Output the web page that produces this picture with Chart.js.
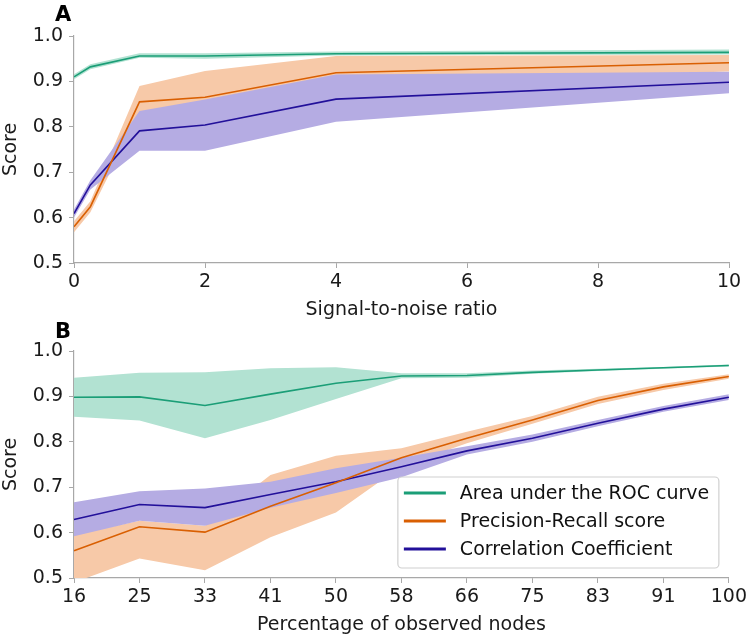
<!DOCTYPE html>
<html>
<head>
<meta charset="utf-8">
<script src="https://cdn.jsdelivr.net/npm/chart.js@4/dist/chart.umd.min.js"></script>
<style>
  body { margin: 0; background: #fff; font-family: 'DejaVu Sans', sans-serif; }
  .panel { position: relative; width: 750px; }
  .tag { position: absolute; left: 55px; font: bold 21px 'DejaVu Sans', sans-serif; color: #000; }
</style>
</head>
<body>
<div class="panel" style="height:320px">
  <div class="tag" style="top:2px">A</div>
  <canvas id="chartA" width="750" height="320"></canvas>
</div>
<div class="panel" style="height:321px">
  <div class="tag" style="top:-1px">B</div>
  <canvas id="chartB" width="750" height="321"></canvas>
</div>
<script>
const seriesNames = ['Area under the ROC curve', 'Precision-Recall score', 'Correlation Coefficient'];
const yTicks = [0.5, 0.6, 0.7, 0.8, 0.9, 1.0];

// panel A: signal-to-noise ratio
const snr = [0, 0.25, 1, 2, 4, 10];
const aucA = [0.910, 0.932, 0.956, 0.956, 0.961, 0.964];
const aucALow = [0.905, 0.927, 0.952, 0.950, 0.957, 0.959];
const aucAHigh = [0.916, 0.938, 0.962, 0.962, 0.966, 0.970];
const prA = [0.580, 0.624, 0.855, 0.865, 0.919, 0.941];
const prALow = [0.568, 0.612, 0.830, 0.830, 0.895, 0.922];
const prAHigh = [0.592, 0.636, 0.890, 0.923, 0.956, 0.958];
const ccA = [0.609, 0.672, 0.791, 0.804, 0.861, 0.898];
const ccALow = [0.600, 0.662, 0.747, 0.747, 0.811, 0.874];
const ccAHigh = [0.618, 0.682, 0.835, 0.860, 0.915, 0.921];

// panel B: percentage of observed nodes
const pct = ['16', '25', '33', '41', '50', '58', '66', '75', '83', '91', '100'];
const aucB = [0.898, 0.899, 0.880, 0.905, 0.929, 0.945, 0.946, 0.953, 0.958, 0.963, 0.968];
const aucBLow = [0.855, 0.847, 0.808, 0.848, 0.894, 0.940, 0.941, 0.950, 0.956, 0.961, 0.966];
const aucBHigh = [0.941, 0.952, 0.953, 0.962, 0.964, 0.951, 0.951, 0.957, 0.961, 0.965, 0.970];
const prB = [0.560, 0.613, 0.601, 0.658, 0.710, 0.765, 0.808, 0.848, 0.891, 0.921, 0.944];
const prBLow = [0.490, 0.543, 0.517, 0.590, 0.644, 0.746, 0.797, 0.840, 0.883, 0.914, 0.939];
const prBHigh = [0.595, 0.626, 0.615, 0.727, 0.769, 0.786, 0.822, 0.857, 0.899, 0.928, 0.949];
const ccB = [0.629, 0.662, 0.655, 0.684, 0.712, 0.745, 0.780, 0.808, 0.841, 0.872, 0.898];
const ccBLow = [0.592, 0.626, 0.615, 0.655, 0.687, 0.722, 0.772, 0.800, 0.834, 0.866, 0.892];
const ccBHigh = [0.667, 0.691, 0.697, 0.712, 0.742, 0.765, 0.790, 0.816, 0.848, 0.879, 0.905];

const lineColors = ['#1b9e77', '#d95f02', '#22109a'];
const bandColors = ['#b2e2d2', '#f7c9a8', '#b5ace3'];
const axisGray = '#a8a8a8';
const font = { family: "'DejaVu Sans', sans-serif", size: 19 };

function bandSets(low, high, i) {
  // higher order is drawn first, so the purple band ends up on top
  return [
    { data: high, fill: '+1', backgroundColor: bandColors[i], borderWidth: 0, pointRadius: 0, order: 3 - i },
    { data: low, fill: false, borderWidth: 0, pointRadius: 0, order: 3 - i }
  ];
}

function buildSets(means, lows, highs, xs) {
  const pair = arr => xs ? arr.map((v, k) => ({ x: xs[k], y: v })) : arr;
  let sets = [];
  means.forEach((m, i) => { sets = sets.concat(bandSets(pair(lows[i]), pair(highs[i]), i)); });
  means.forEach((m, i) => {
    sets.push({ label: seriesNames[i], data: pair(m), borderColor: lineColors[i], borderWidth: 1.6,
      fill: false, pointRadius: 0, tension: 0, order: 0 });
  });
  return sets;
}

const boxLegend = {
  id: 'boxLegend',
  afterDraw(chart, args, opts) {
    if (!opts.show) return;
    const ctx = chart.ctx, a = chart.chartArea;
    const w = 321, h = 91;
    const x = a.right - 10 - w, y = a.bottom - 10 - h;
    ctx.save();
    ctx.beginPath();
    ctx.roundRect(x, y, w, h, 4);
    ctx.fillStyle = 'rgba(255,255,255,0.85)';
    ctx.fill();
    ctx.strokeStyle = '#d0d0d0';
    ctx.lineWidth = 1.2;
    ctx.stroke();
    ctx.font = "19px 'DejaVu Sans', sans-serif";
    ctx.textBaseline = 'middle';
    seriesNames.forEach((name, i) => {
      const ry = y + 16 + i * 28;
      ctx.strokeStyle = lineColors[i];
      ctx.lineWidth = 3;
      ctx.beginPath();
      ctx.moveTo(x + 6, ry);
      ctx.lineTo(x + 48, ry);
      ctx.stroke();
      ctx.fillStyle = '#111';
      ctx.fillText(name, x + 62, ry + 1);
    });
    ctx.restore();
  }
};

function makeOptions(xScale, padTop, padBottom, showLegend) {
  return {
    responsive: false,
    animation: false,
    layout: { padding: { left: 0, right: 21, top: padTop, bottom: padBottom } },
    plugins: { legend: { display: false }, tooltip: { enabled: false }, boxLegend: { show: showLegend } },
    scales: {
      x: Object.assign({
        grid: { display: true, drawOnChartArea: false, drawTicks: true, tickLength: 5, color: axisGray },
        border: { color: axisGray, width: 1.2 },
        afterFit: s => { s.height = 57; }
      }, xScale),
      y: {
        min: 0.5, max: 1.0,
        afterBuildTicks: s => { s.ticks = yTicks.map(v => ({ value: v })); },
        ticks: { font: font, color: '#1a1a1a', padding: 6, callback: v => v.toFixed(1) },
        grid: { display: true, drawOnChartArea: false, drawTicks: true, tickLength: 5, color: axisGray },
        border: { color: axisGray, width: 1.2 },
        title: { display: true, text: 'Score', font: Object.assign({ lineHeight: 1 }, font), color: '#1a1a1a', padding: { top: 2, bottom: 0 } },
        afterFit: s => { s.width = 74; }
      }
    }
  };
}

new Chart(document.getElementById('chartA').getContext('2d'), {
  type: 'line',
  data: { datasets: buildSets([aucA, prA, ccA], [aucALow, prALow, ccALow], [aucAHigh, prAHigh, ccAHigh], snr) },
  options: makeOptions({
    type: 'linear', min: 0, max: 10,
    ticks: { stepSize: 2, font: font, color: '#1a1a1a', padding: 3 },
    title: { display: true, text: 'Signal-to-noise ratio', font: Object.assign({ lineHeight: 1 }, font), color: '#1a1a1a', padding: 0 }
  }, 36, 0, false),
  plugins: [boxLegend]
});

new Chart(document.getElementById('chartB').getContext('2d'), {
  type: 'line',
  data: { labels: pct, datasets: buildSets([aucB, prB, ccB], [aucBLow, prBLow, ccBLow], [aucBHigh, prBHigh, ccBHigh], null) },
  options: makeOptions({
    type: 'category', offset: false,
    ticks: { font: font, color: '#1a1a1a', padding: 3, maxRotation: 0, autoSkip: false },
    title: { display: true, text: 'Percentage of observed nodes', font: Object.assign({ lineHeight: 1 }, font), color: '#1a1a1a', padding: 0 }
  }, 31, 6, true),
  plugins: [boxLegend]
});
</script>
</body>
</html>
